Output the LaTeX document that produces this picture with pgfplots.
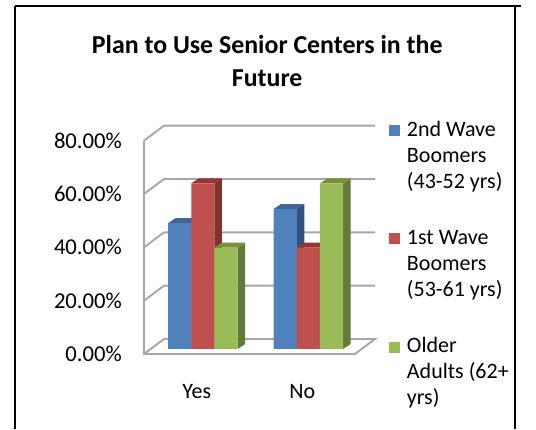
\documentclass[border=0pt]{standalone}
\usepackage{fontspec}
\setmainfont{Carlito}
\usepackage{pgfplots}
\pgfplotsset{compat=1.18}

\definecolor{blueF}{HTML}{4F81BD}
\definecolor{blueT}{HTML}{3D6595}
\definecolor{blueS}{HTML}{30527F}
\definecolor{redF}{HTML}{C0504D}
\definecolor{redT}{HTML}{963634}
\definecolor{redS}{HTML}{7F3230}
\definecolor{greenF}{HTML}{9BBB59}
\definecolor{greenT}{HTML}{76923C}
\definecolor{greenS}{HTML}{647A3B}
\definecolor{wall}{HTML}{A6A6A6}

% top and side of one bar: left x, value, top colour, side colour
\newcommand{\barfaces}[4]{%
	\pgfmathsetmacro\xr{#1+0.22}%
	\pgfmathsetmacro\xrd{#1+0.291}%
	\pgfmathsetmacro\xld{#1+0.071}%
	\pgfmathsetmacro\vd{#2+1.875}%
	\edef\temp{\noexpand\addplot[fill=#4, draw=none, forget plot] coordinates {(\xr,0) (\xrd,1.875) (\xrd,\vd) (\xr,#2)};}\temp
	\edef\temp{\noexpand\addplot[fill=#3, draw=none, forget plot] coordinates {(#1,#2) (\xr,#2) (\xrd,\vd) (\xld,\vd)};}\temp
}

\begin{document}
\begin{tikzpicture}[x=0.75pt, y=0.75pt]
	\path[use as bounding box] (0,0) rectangle (536,429);
	% page frame of the scanned table
	\draw[black, line width=1.5pt] (15,0) -- (15,423) (515,0) -- (515,423);
	\draw[black, line width=1.5pt] (15,423) -- (521,423);

	% walls, floor and value axis
	\begin{axis}[
		at={(108pt,56.25pt)}, anchor=south west,
		width=158.25pt, height=160pt,
		scale only axis,
		clip=false,
		xmin=-0.5, xmax=1.5,
		ymin=0, ymax=80,
		axis lines=none,
		title={Plan to Use Senior Centers in the\\Future},
		title style={at={(axis description cs:0.584,1)}, anchor=south, align=center, yshift=31pt,
			font=\fontsize{19.4}{24.5}\selectfont\bfseries},
		]
		\addplot[wall, line width=1.4pt, forget plot] coordinates {(-0.5,80) (-0.31,85.63) (1.69,85.63)};
		\addplot[wall, line width=1.4pt, forget plot] coordinates {(-0.5,60) (-0.31,65.63) (1.69,65.63)};
		\addplot[wall, line width=1.4pt, forget plot] coordinates {(-0.5,40) (-0.31,45.63) (1.69,45.63)};
		\addplot[wall, line width=1.4pt, forget plot] coordinates {(-0.5,20) (-0.31,25.63) (1.69,25.63)};
		\addplot[wall, line width=1.4pt, forget plot] coordinates {(-0.5,80) (-0.5,0) (1.5,0) (1.69,5.63) (-0.31,5.63) (-0.5,0)};
		\node[anchor=east, font=\fontsize{17}{20}\selectfont] at (axis cs:-0.665,80) {80.00\%};
		\node[anchor=east, font=\fontsize{17}{20}\selectfont] at (axis cs:-0.665,60) {60.00\%};
		\node[anchor=east, font=\fontsize{17}{20}\selectfont] at (axis cs:-0.665,40) {40.00\%};
		\node[anchor=east, font=\fontsize{17}{20}\selectfont] at (axis cs:-0.665,20) {20.00\%};
		\node[anchor=east, font=\fontsize{17}{20}\selectfont] at (axis cs:-0.665,0) {0.00\%};
		\node[font=\fontsize{16.5}{20}\selectfont] at (axis cs:0,-14) {Yes};
		\node[font=\fontsize{16.5}{20}\selectfont] at (axis cs:1,-14) {No};
	\end{axis}

	% bars, front faces are the data
	\begin{axis}[
		at={(108pt,60pt)}, anchor=south west,
		width=158.25pt, height=160pt,
		scale only axis,
		clip=false,
		xmin=-0.5, xmax=1.5,
		ymin=0, ymax=80,
		axis lines=none,
		legend image code/.code={\fill[#1] (0pt,-6pt) rectangle (8.25pt,2.25pt);\path (0pt,0pt) -- (11.5pt,0pt);},
		legend cell align=left,
		legend style={
			at={(axis cs:1.822,87.6)}, anchor=north west,
			draw=none, fill=none, inner sep=0pt, outer sep=0pt,
			row sep=62pt,
			font=\fontsize{16.5}{19.5}\selectfont,
		},
		]
		\barfaces{-0.272}{47.2}{blueT}{blueS}
		\barfaces{0.728}{52.5}{blueT}{blueS}
		\addplot[ybar, bar width=0.22, bar shift=-0.162, fill=blueF, draw=none] coordinates {(0,47.2) (1,52.5)};
		\addlegendentry{\begin{tabular}[t]{@{}l@{}}2nd Wave\\Boomers\\(43-52 yrs)\end{tabular}}
		\barfaces{-0.052}{62.1}{redT}{redS}
		\barfaces{0.948}{38}{redT}{redS}
		\addplot[ybar, bar width=0.22, bar shift=0.058, fill=redF, draw=none] coordinates {(0,62.1) (1,38)};
		\addlegendentry{\begin{tabular}[t]{@{}l@{}}1st Wave\\Boomers\\(53-61 yrs)\end{tabular}}
		\barfaces{0.168}{38}{greenT}{greenS}
		\barfaces{1.168}{62.1}{greenT}{greenS}
		\addplot[ybar, bar width=0.22, bar shift=0.278, fill=greenF, draw=none] coordinates {(0,38) (1,62.1)};
		\addlegendentry{\begin{tabular}[t]{@{}l@{}}Older\\Adults (62+\\yrs)\end{tabular}}
	\end{axis}
\end{tikzpicture}
\end{document}
